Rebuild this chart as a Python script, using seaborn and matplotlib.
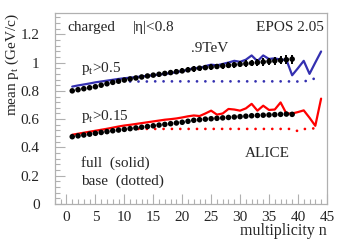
import numpy as np
import matplotlib
matplotlib.use("Agg")
import matplotlib.pyplot as plt
import seaborn as sns
from matplotlib.ticker import MultipleLocator

# ---- data ----
n_data = list(range(1, 40))
alice_05 = [0.800, 0.808, 0.815, 0.822, 0.829, 0.840, 0.850, 0.860, 0.868, 0.876,
            0.884, 0.891, 0.898, 0.905, 0.911, 0.917, 0.923, 0.929, 0.935, 0.941,
            0.948, 0.955, 0.960, 0.964, 0.968, 0.972, 0.976, 0.980, 0.984, 0.988,
            0.992, 0.996, 1.000, 1.004, 1.008, 1.012, 1.016, 1.020, 1.024]
alice_05_err = [0.012, 0.012, 0.012, 0.012, 0.012, 0.013, 0.013, 0.013, 0.013, 0.014,
                0.014, 0.014, 0.015, 0.015, 0.015, 0.016, 0.016, 0.017, 0.017, 0.018,
                0.018, 0.019, 0.019, 0.020, 0.020, 0.021, 0.021, 0.022, 0.022, 0.023,
                0.024, 0.024, 0.025, 0.026, 0.027, 0.028, 0.029, 0.030, 0.031]
alice_015 = [0.476, 0.482, 0.488, 0.494, 0.500, 0.506, 0.512, 0.518, 0.523, 0.528,
             0.533, 0.538, 0.543, 0.548, 0.553, 0.558, 0.563, 0.568, 0.573, 0.578,
             0.585, 0.592, 0.596, 0.600, 0.603, 0.606, 0.609, 0.612, 0.615, 0.618,
             0.621, 0.624, 0.626, 0.628, 0.630, 0.632, 0.634, 0.636, 0.634]
alice_015_err = [0.008] * 20 + [0.009] * 10 + [0.011] * 9

n_full = list(range(1, 45))
full_05 = [0.830, 0.838, 0.845, 0.852, 0.860, 0.866, 0.872, 0.878, 0.884, 0.889,
           0.893, 0.897, 0.902, 0.906, 0.910, 0.915, 0.920, 0.925, 0.932, 0.940,
           0.948, 0.962, 0.960, 0.975, 0.985, 0.980, 0.990, 1.000, 1.012, 1.005,
           1.020, 1.050, 1.010, 1.050, 1.025, 1.030, 1.020, 1.020, 0.910, 0.960,
           1.012, 0.920, 1.000, 1.078]
full_015 = [0.490, 0.497, 0.504, 0.511, 0.518, 0.525, 0.532, 0.540, 0.548, 0.555,
            0.560, 0.566, 0.572, 0.578, 0.584, 0.590, 0.596, 0.600, 0.605, 0.612,
            0.620, 0.626, 0.622, 0.640, 0.660, 0.632, 0.640, 0.672, 0.668, 0.660,
            0.676, 0.708, 0.660, 0.695, 0.665, 0.668, 0.718, 0.640, 0.640, 0.650,
            0.662, 0.610, 0.553, 0.745]

n_base = list(range(11, 45))
base_05 = [0.866, 0.866, 0.866, 0.866, 0.867, 0.867, 0.867, 0.867, 0.867, 0.867,
           0.867, 0.867, 0.867, 0.867, 0.867, 0.867, 0.867, 0.867, 0.867, 0.867,
           0.867, 0.867, 0.867, 0.867, 0.867, 0.867, 0.867, 0.867, 0.866, 0.866,
           0.868, 0.872, 0.890, 0.905]
base_015 = [0.531, 0.531, 0.531, 0.531, 0.531, 0.531, 0.531, 0.531, 0.531, 0.531,
            0.531, 0.531, 0.531, 0.531, 0.531, 0.531, 0.531, 0.531, 0.531, 0.531,
            0.531, 0.531, 0.531, 0.531, 0.531, 0.531, 0.531, 0.531, 0.531, 0.515,
            0.530, 0.533, 0.535, 0.535]

blue = "#3430b0"
red = "#ff0000"

sns.set_style("white")
plt.rcParams["font.family"] = ["Liberation Serif", "DejaVu Serif"]
plt.rcParams["mathtext.fontset"] = "custom"
plt.rcParams["mathtext.rm"] = "Liberation Serif"
plt.rcParams["mathtext.it"] = "Liberation Serif:italic"

fig = plt.figure(figsize=(3.43, 2.45), dpi=100)
ax = fig.add_axes([0.160, 0.167, 0.793, 0.780])

dot = dict(linestyle=(0, (0.01, 3.0)), linewidth=2.0, dash_capstyle="round")
sns.lineplot(x=n_base, y=base_05, color=blue, ax=ax, **dot)
sns.lineplot(x=n_base, y=base_015, color=red, ax=ax, **dot)
sns.lineplot(x=n_full, y=full_05, color=blue, linewidth=1.6, ax=ax)
sns.lineplot(x=n_full, y=full_015, color=red, linewidth=1.6, ax=ax)

for y, e in [(alice_05, alice_05_err), (alice_015, alice_015_err)]:
    ax.errorbar(n_data, y, yerr=e, fmt="none", ecolor="black", elinewidth=1.4, capsize=0, zorder=4)
    sns.scatterplot(x=n_data, y=y, color="black", s=16, edgecolor="none", ax=ax, zorder=5)

ax.set_xlim(-2, 45)
ax.set_ylim(0, 1.35)
ax.xaxis.set_major_locator(MultipleLocator(5))
ax.xaxis.set_minor_locator(MultipleLocator(1))
ax.yaxis.set_major_locator(MultipleLocator(0.2))
ax.yaxis.set_minor_locator(MultipleLocator(0.04))
ax.set_yticks([0, 0.2, 0.4, 0.6, 0.8, 1.0, 1.2])
ax.set_yticklabels(["0", "0.2", "0.4", "0.6", "0.8", "1", "1.2"])
ax.tick_params(which="both", direction="in", color="#b0b0b0", labelsize=11,
               bottom=True, left=True, top=False, right=False)
ax.tick_params(which="major", length=7, width=0.8)
ax.tick_params(which="minor", length=3.5, width=0.8)
ax.tick_params(axis="y", which="major", pad=11)
ax.tick_params(axis="x", which="major", pad=5)
for s in ax.spines.values():
    s.set_color("#b0b0b0")
    s.set_linewidth(0.9)

ax.set_xlabel("multiplicity n", fontsize=11.5, loc="right", labelpad=-1)
ax.set_ylabel("")
fig.text(0.035, 0.947, r"mean p$_\mathrm{t}$ (GeV/c)", rotation=90, fontsize=11,
         ha="center", va="top")

tk = dict(transform=ax.transData, fontsize=11)
ax.text(0.2, 1.25, "charged", va="center", **tk)
ax.text(11.5, 1.25, "|\u03b7|<0.8", va="center", **tk)
ax.text(44.5, 1.25, "EPOS 2.05", va="center", ha="right", **tk)
ax.text(21.5, 1.10, ".9TeV", va="center", **tk)
ax.text(2.5, 0.955, r"p$_\mathrm{t}$>0.5", va="center", **tk)
ax.text(2.5, 0.62, r"p$_\mathrm{t}$>0.15", va="center", **tk)
ax.text(2.5, 0.29, "full  (solid)", va="center", **tk)
ax.text(2.5, 0.16, "base  (dotted)", va="center", **tk)
ax.text(30.8, 0.355, "ALICE", va="center", **tk)

fig.savefig("out.png", dpi=100)
